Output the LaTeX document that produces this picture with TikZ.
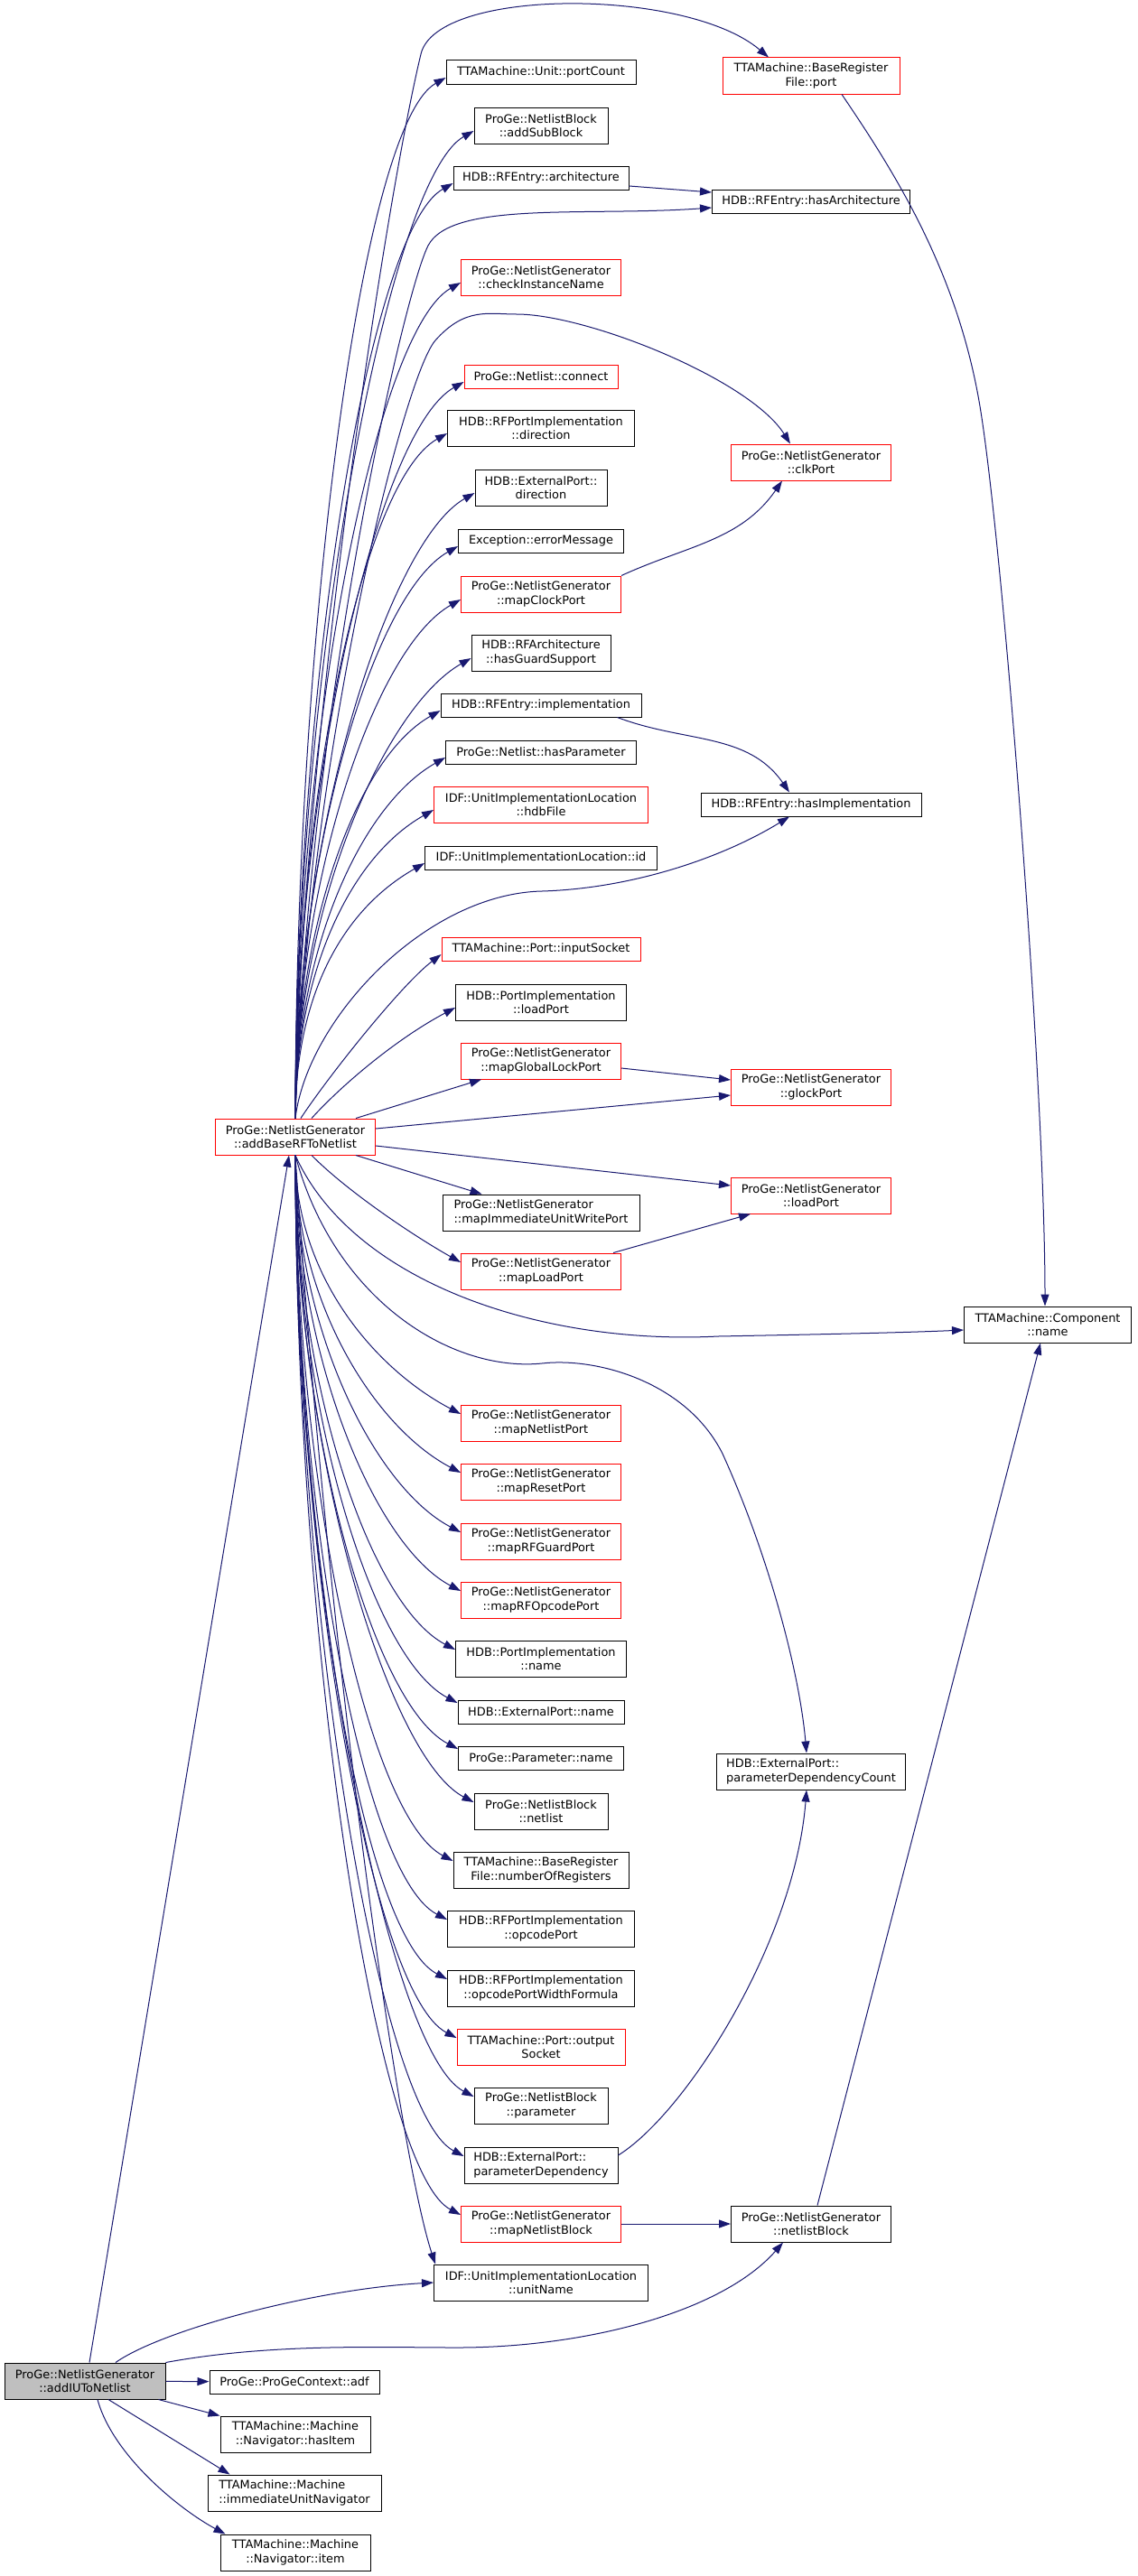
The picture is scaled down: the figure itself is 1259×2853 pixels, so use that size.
\documentclass[tikz,border=0pt]{standalone}
\usepackage{fontspec}
\setmainfont{DejaVu Sans}
\usetikzlibrary{arrows.meta, calc}
\definecolor{midnight}{RGB}{25,25,112}
\definecolor{grey75}{RGB}{191,191,191}

\begin{document}
\begin{tikzpicture}[->, >={Triangle[length=13pt,width=9pt]}, x=1pt, y=1pt,
    fn/.style={draw=black, line width=1pt, fill=white, align=center, inner sep=2pt,
      minimum height=26pt, font=\fontsize{12.9}{15.5}\selectfont},
    trunc/.style={fn, draw=red},
    two/.style={minimum height=40pt},
    call/.style={draw=midnight, line width=1pt},
    every edge/.style={call}]
    \fill[white] (0,0) rectangle (1259,-2853);
    \useasboundingbox (0,0) rectangle (1259,-2853);

    % callees of addBaseRFToNetlist
    \node[fn, minimum width=210pt] (pcount) at (599,-80) {TTAMachine::Unit::portCount};
    \node[trunc, two, minimum width=196pt] (brfport) at (898,-84) {TTAMachine::BaseRegister\\File::port};
    \node[fn, two, minimum width=148pt] (subblock) at (599,-139) {ProGe::NetlistBlock\\::addSubBlock};
    \node[fn, minimum width=194pt] (arch) at (599,-197) {HDB::RFEntry::architecture};
    \node[fn, minimum width=219pt] (hasarch) at (898,-223) {HDB::RFEntry::hasArchitecture};
    \node[trunc, two, minimum width=177pt] (checkname) at (599,-307) {ProGe::NetlistGenerator\\::checkInstanceName};
    \node[trunc, minimum width=170pt] (connect) at (599,-417) {ProGe::Netlist::connect};
    \node[fn, two, minimum width=207pt] (rfdir) at (599,-474) {HDB::RFPortImplementation\\::direction};
    \node[trunc, two, minimum width=177pt] (clkport) at (898,-512) {ProGe::NetlistGenerator\\::clkPort};
    \node[fn, two, minimum width=146pt] (epdir) at (599,-540) {HDB::ExternalPort::\\direction};
    \node[fn, minimum width=183pt] (errmsg) at (599,-599) {Exception::errorMessage};
    \node[trunc, two, minimum width=177pt] (mapclk) at (599,-658) {ProGe::NetlistGenerator\\::mapClockPort};
    \node[fn, two, minimum width=154pt] (guard) at (599,-723) {HDB::RFArchitecture\\::hasGuardSupport};
    \node[fn, minimum width=222pt] (impl) at (599,-781) {HDB::RFEntry::implementation};
    \node[fn, minimum width=211pt] (haspar) at (599,-833) {ProGe::Netlist::hasParameter};
    \node[trunc, two, minimum width=237pt] (hdbfile) at (599,-891) {IDF::UnitImplementationLocation\\::hdbFile};
    \node[fn, minimum width=244pt] (hasimpl) at (898,-891) {HDB::RFEntry::hasImplementation};
    \node[fn, minimum width=257pt] (locid) at (599,-950) {IDF::UnitImplementationLocation::id};
    \node[trunc, minimum width=220pt] (insock) at (599,-1051) {TTAMachine::Port::inputSocket};
    \node[fn, two, minimum width=189pt] (pildport) at (599,-1110) {HDB::PortImplementation\\::loadPort};
    \node[trunc, two, minimum width=177pt] (mapglock) at (599,-1175) {ProGe::NetlistGenerator\\::mapGlobalLockPort};
    \node[trunc, two, minimum width=177pt] (glock) at (898,-1204) {ProGe::NetlistGenerator\\::glockPort};
    \node[trunc, two, minimum width=177pt] (rf) at (327,-1259) {ProGe::NetlistGenerator\\::addBaseRFToNetlist};
    \node[trunc, two, minimum width=177pt] (ldport) at (898,-1324) {ProGe::NetlistGenerator\\::loadPort};
    \node[fn, two, align=left, minimum width=218pt] (mapiuw) at (599,-1343) {ProGe::NetlistGenerator\\::mapImmediateUnitWritePort};
    \node[trunc, two, minimum width=177pt] (mapload) at (599,-1408) {ProGe::NetlistGenerator\\::mapLoadPort};
    \node[fn, two, minimum width=185pt] (comp) at (1160,-1467) {TTAMachine::Component\\::name};
    \node[trunc, two, minimum width=177pt] (mapnport) at (599,-1576) {ProGe::NetlistGenerator\\::mapNetlistPort};
    \node[trunc, two, minimum width=177pt] (mapreset) at (599,-1641) {ProGe::NetlistGenerator\\::mapResetPort};
    \node[trunc, two, minimum width=177pt] (mapguard) at (599,-1707) {ProGe::NetlistGenerator\\::mapRFGuardPort};
    \node[trunc, two, minimum width=177pt] (mapopcode) at (599,-1772) {ProGe::NetlistGenerator\\::mapRFOpcodePort};
    \node[fn, two, minimum width=189pt] (piname) at (599,-1837) {HDB::PortImplementation\\::name};
    \node[fn, minimum width=184pt] (epname) at (599,-1896) {HDB::ExternalPort::name};
    \node[fn, minimum width=183pt] (parname) at (599,-1947) {ProGe::Parameter::name};
    \node[fn, two, align=left, minimum width=209pt] (pdcount) at (898,-1962) {HDB::ExternalPort::\\parameterDependencyCount};
    \node[fn, two, minimum width=148pt] (nlist) at (599,-2006) {ProGe::NetlistBlock\\::netlist};
    \node[fn, two, minimum width=194pt] (nregs) at (599,-2071) {TTAMachine::BaseRegister\\File::numberOfRegisters};
    \node[fn, two, minimum width=207pt] (opport) at (599,-2136) {HDB::RFPortImplementation\\::opcodePort};
    \node[fn, two, minimum width=207pt] (opwidth) at (599,-2202) {HDB::RFPortImplementation\\::opcodePortWidthFormula};
    \node[trunc, two, minimum width=186pt] (outsock) at (599,-2267) {TTAMachine::Port::output\\Socket};
    \node[fn, two, minimum width=148pt] (nbpar) at (599,-2332) {ProGe::NetlistBlock\\::parameter};
    \node[fn, two, align=left, minimum width=170pt] (pardep) at (599,-2398) {HDB::ExternalPort::\\parameterDependency};
    \node[trunc, two, minimum width=177pt] (mapnblock) at (599,-2463) {ProGe::NetlistGenerator\\::mapNetlistBlock};
    \node[fn, two, minimum width=177pt] (nblock) at (898,-2463) {ProGe::NetlistGenerator\\::netlistBlock};
    \node[fn, two, minimum width=237pt] (unitname) at (599,-2528) {IDF::UnitImplementationLocation\\::unitName};

    % the function of the graph and its direct callees
    \node[fn, two, fill=grey75, minimum width=178pt] (iu) at (94,-2637) {ProGe::NetlistGenerator\\::addIUToNetlist};
    \node[fn, minimum width=188pt] (adf) at (326,-2638) {ProGe::ProGeContext::adf};
    \node[fn, two, minimum width=166pt] (hasitem) at (327,-2696) {TTAMachine::Machine\\::Navigator::hasItem};
    \node[fn, two, align=left, minimum width=192pt] (iunav) at (326,-2761) {TTAMachine::Machine\\::immediateUnitNavigator};
    \node[fn, two, minimum width=166pt] (item) at (327,-2827) {TTAMachine::Machine\\::Navigator::item};

    % fan out of addBaseRFToNetlist
    \foreach \callee in {pcount,subblock,arch,checkname,connect,rfdir,epdir,errmsg,
                         mapclk,guard,impl,haspar,hdbfile,locid}
        \draw[call] (rf.north) .. controls ($(rf.north)!.45!(rf.north |- \callee.west)$)
            and ($(\callee.west)+(-95,-60)$) .. ([yshift=-6pt]\callee.west);
    \foreach \callee in {mapnport,mapreset,mapguard,mapopcode,piname,epname,parname,nlist,
                         nregs,opport,opwidth,outsock,nbpar,pardep,mapnblock}
        \draw[call] (rf.south) .. controls ($(rf.south)!.45!(rf.south |- \callee.west)$)
            and ($(\callee.west)+(-95,60)$) .. ([yshift=10pt]\callee.west);
    \draw[call] ([xshift=6pt]rf.north) .. controls (365,-1190) and (445,-1090) .. ([yshift=-6pt]insock.west);
    \draw[call] ([xshift=18pt]rf.north) .. controls (380,-1200) and (440,-1150) .. ([yshift=-6pt]pildport.west);
    \draw[call] ([xshift=18pt]rf.south) .. controls (385,-1320) and (460,-1370) .. ([yshift=10pt]mapload.west);
    \path ([xshift=-22pt]rf.north east) edge ([xshift=23pt]mapglock.south west)
          ([yshift=9pt]rf.east) edge ([yshift=-9pt]glock.west)
          ([yshift=-10pt]rf.east) edge ([yshift=11pt]ldport.west)
          ([xshift=-22pt]rf.south east) edge ([xshift=44pt]mapiuw.north west);

    % long calls of addBaseRFToNetlist
    \draw[call] (rf.north) .. controls (332,-850) and (425,-230) .. (466,-60)
        .. controls (483,14) and (760,14) .. ([xshift=-47pt]brfport.north);
    \draw[call] (rf.north) .. controls (340,-800) and (445,-330) .. (474,-272)
        .. controls (500,-222) and (650,-240) .. ([yshift=-7pt]hasarch.west);
    \draw[call] (rf.north) .. controls (340,-850) and (445,-420) .. (482,-377)
        .. controls (515,-340) and (540,-348) .. (572,-348)
        .. controls (650,-348) and (830,-420) .. ([xshift=-23pt]clkport.north);
    \draw[call] (rf.north) .. controls (340,-1130) and (470,-990) .. (600,-987)
        .. controls (700,-984) and (800,-950) .. ([xshift=-24pt]hasimpl.south);
    \draw[call] (rf.south) .. controls (390,-1420) and (600,-1490) .. (795,-1480)
        .. controls (900,-1478) and (1000,-1476) .. ([yshift=-6pt]comp.west);
    \draw[call] (rf.south) .. controls (370,-1440) and (500,-1520) .. (600,-1510)
        .. controls (660,-1503) and (760,-1530) .. (800,-1610)
        .. controls (850,-1720) and (885,-1850) .. ([xshift=-5pt]pdcount.north);
    \draw[call] (rf.south) .. controls (360,-1800) and (440,-2380) .. ([xshift=2pt]unitname.north west);

    % second level calls
    \path ([yshift=-9pt]arch.east) edge ([yshift=10pt]hasarch.west)
          ([yshift=-8pt]mapglock.east) edge ([yshift=8pt]glock.west)
          ([xshift=-9pt]mapload.north east) edge ([xshift=-67pt]ldport.south)
          (mapnblock) edge (nblock)
          ([xshift=7pt]nblock.north) edge ([xshift=-8pt]comp.south);
    \draw[call] (mapclk.north east) .. controls (761,-604) and (820,-599) .. ([xshift=-32pt]clkport.south);
    \draw[call] ([xshift=-27pt]impl.south east) .. controls (759,-823) and (828,-811) .. ([xshift=-24pt]hasimpl.north);
    \draw[call] ([xshift=34pt]brfport.south) .. controls (990,-190) and (1060,-300) .. (1085,-450)
        .. controls (1110,-600) and (1157,-1200) .. ([xshift=-3pt]comp.north);
    \draw[call] ([yshift=11pt]pardep.east) .. controls (760,-2340) and (880,-2150) .. ([xshift=-5pt]pdcount.south);

    % calls of addIUToNetlist
    \path ([xshift=5pt]iu.north) edge ([xshift=-7pt]rf.south)
          (iu) edge (adf)
          ([xshift=-8pt]iu.south east) edge (hasitem.north west)
          ([xshift=26pt]iu.south) edge ([xshift=25pt]iunav.north west);
    \draw[call] ([xshift=34pt]iu.north) .. controls (180,-2580) and (350,-2535) .. (unitname.west);
    \draw[call] (iu.north east) .. controls (300,-2595) and (420,-2600) .. (506,-2600)
        .. controls (650,-2600) and (800,-2560) .. ([xshift=-31pt]nblock.south);
    \draw[call] ([xshift=14pt]iu.south) .. controls (125,-2720) and (200,-2780) .. ([xshift=6pt]item.north west);
\end{tikzpicture}
\end{document}
